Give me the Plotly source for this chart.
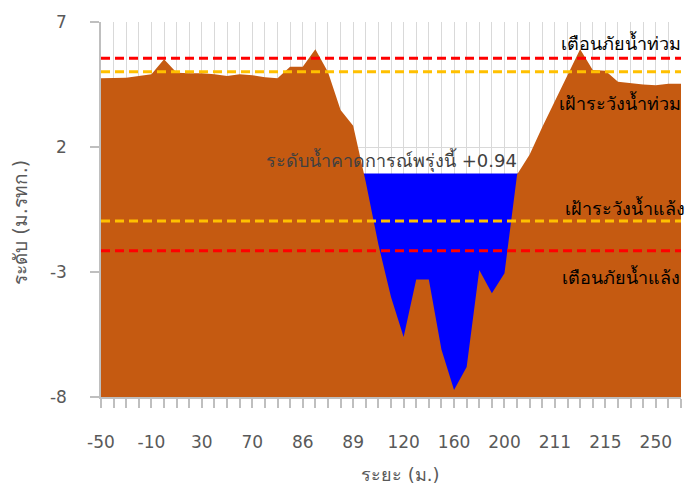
import plotly.graph_objects as go

# distance categories (m)
distance = ["-50", "-40", "-30", "-20", "-10", "0", "10", "20", "30", "40", "50", "60",
            "70", "75", "80", "83", "86", "87", "88", "88.5", "89", "95", "105", "110",
            "120", "130", "140", "150", "160", "170", "180", "190", "200", "205", "208",
            "210", "211", "212", "213", "214", "215", "220", "230", "240", "250", "260", "270"]

# ground elevation (m MSL)
ground = [4.75, 4.75, 4.77, 4.84, 4.91, 5.51, 4.97, 4.95, 4.95, 4.91, 4.84, 4.91,
          4.87, 4.79, 4.75, 5.21, 5.21, 5.91, 5.0, 3.48, 2.85, 0.6, -1.9, -4.0,
          -5.6, -3.3, -3.3, -6.1, -7.72, -6.8, -2.92, -3.85, -3.05, 0.9, 1.7,
          2.8, 3.85, 4.9, 5.91, 5.08, 5.05, 4.61, 4.55, 4.5, 4.47, 4.53, 4.53]

water_level = 0.94
flood_warning = 5.55
flood_watch = 5.01
drought_watch = -0.96
drought_warning = -2.15
axis_bottom = -8
y_ticks = [-8, -3, 2, 7]
y_tick_text = ["-8", "-3", "2", "7"]
shown_every = 4

n = len(distance)
base = [axis_bottom] * n
tick_text = [d if i % shown_every == 0 else "" for i, d in enumerate(distance)]

FONT = "DejaVu Sans, Noto Sans, sans-serif"

fig = go.Figure()
fig.add_trace(go.Scatter(x=distance, y=base, mode="lines", line=dict(width=0),
                         hoverinfo="skip", showlegend=False))
fig.add_trace(go.Scatter(x=distance, y=[water_level] * n, mode="lines",
                         line=dict(width=0, color="#0000FF"), fill="tonexty",
                         fillcolor="#0000FF", showlegend=False))
fig.add_trace(go.Scatter(x=distance, y=base, mode="lines", line=dict(width=0),
                         hoverinfo="skip", showlegend=False))
fig.add_trace(go.Scatter(x=distance, y=ground, mode="lines",
                         line=dict(width=0, color="#C55A11"), fill="tonexty",
                         fillcolor="#C55A11", showlegend=False))

for val, col in [(flood_warning, "#FF0000"), (flood_watch, "#FFC000"),
                 (drought_watch, "#FFC000"), (drought_warning, "#FF0000")]:
    fig.add_trace(go.Scatter(x=distance, y=[val] * n, mode="lines",
                             line=dict(color=col, width=3, dash="9px,5px"),
                             showlegend=False))

ann = [
    ("เตือนภัยน้ำท่วม", 6.2, 1.003, "#000000"),
    ("เฝ้าระวังน้ำท่วม", 3.8, 1.003, "#000000"),
    ("เฝ้าระวังน้ำแล้ง", -0.4, 1.01, "#000000"),
    ("เตือนภัยน้ำแล้ง", -3.16, 1.002, "#000000"),
]
for txt, yv, xp, col in ann:
    fig.add_annotation(text=txt, x=xp, xref="paper", y=yv, yref="y",
                       xanchor="right", yanchor="middle", showarrow=False,
                       font=dict(family=FONT, size=18, color=col))

fig.add_annotation(text="ระดับน้ำคาดการณ์พรุ่งนี้ +" + f"{water_level:.2f}",
                   x=0.5, xref="paper", y=1.48, yref="y", xanchor="center",
                   yanchor="middle", showarrow=False,
                   font=dict(family=FONT, size=18, color="#404040"))

fig.add_annotation(text="ระยะ (ม.)", x=0.517, xref="paper", y=-0.207, yref="paper",
                   xanchor="center", yanchor="middle", showarrow=False,
                   font=dict(family=FONT, size=18, color="#595959"))
fig.add_annotation(text="ระดับ (ม.รทก.)", x=-0.14, xref="paper", y=0.467, yref="paper",
                   xanchor="center", yanchor="middle", showarrow=False, textangle=-90,
                   font=dict(family=FONT, size=19, color="#595959"))

# page body has an 8px margin, so the figure is 8px smaller than the window
fig.update_layout(
    width=690, height=480,
    margin=dict(l=93, r=17, t=14, b=91, autoexpand=False),
    paper_bgcolor="white", plot_bgcolor="white",
    showlegend=False,
)
fig.update_xaxes(type="category", range=[0, n - 1], tickmode="array",
                 tickvals=distance, ticktext=tick_text, automargin=False,
                 showgrid=True, gridcolor="#d9d9d9", gridwidth=1,
                 showline=True, linecolor="#bfbfbf", linewidth=1.5,
                 ticks="outside", ticklen=9, tickcolor="#bfbfbf", tickwidth=1.5,
                 ticklabelstandoff=20,
                 tickfont=dict(family=FONT, size=17, color="#595959"), zeroline=False)
fig.update_yaxes(range=[axis_bottom, 7], tickmode="array", tickvals=y_ticks,
                 ticktext=y_tick_text, automargin=False,
                 showgrid=True, gridcolor="#d9d9d9", gridwidth=1,
                 showline=True, linecolor="#bfbfbf", linewidth=1.5,
                 ticks="outside", ticklen=9, tickcolor="#bfbfbf", tickwidth=1.5,
                 ticklabelstandoff=20,
                 tickfont=dict(family=FONT, size=17, color="#595959"), zeroline=False)

fig.write_html("out.html")
